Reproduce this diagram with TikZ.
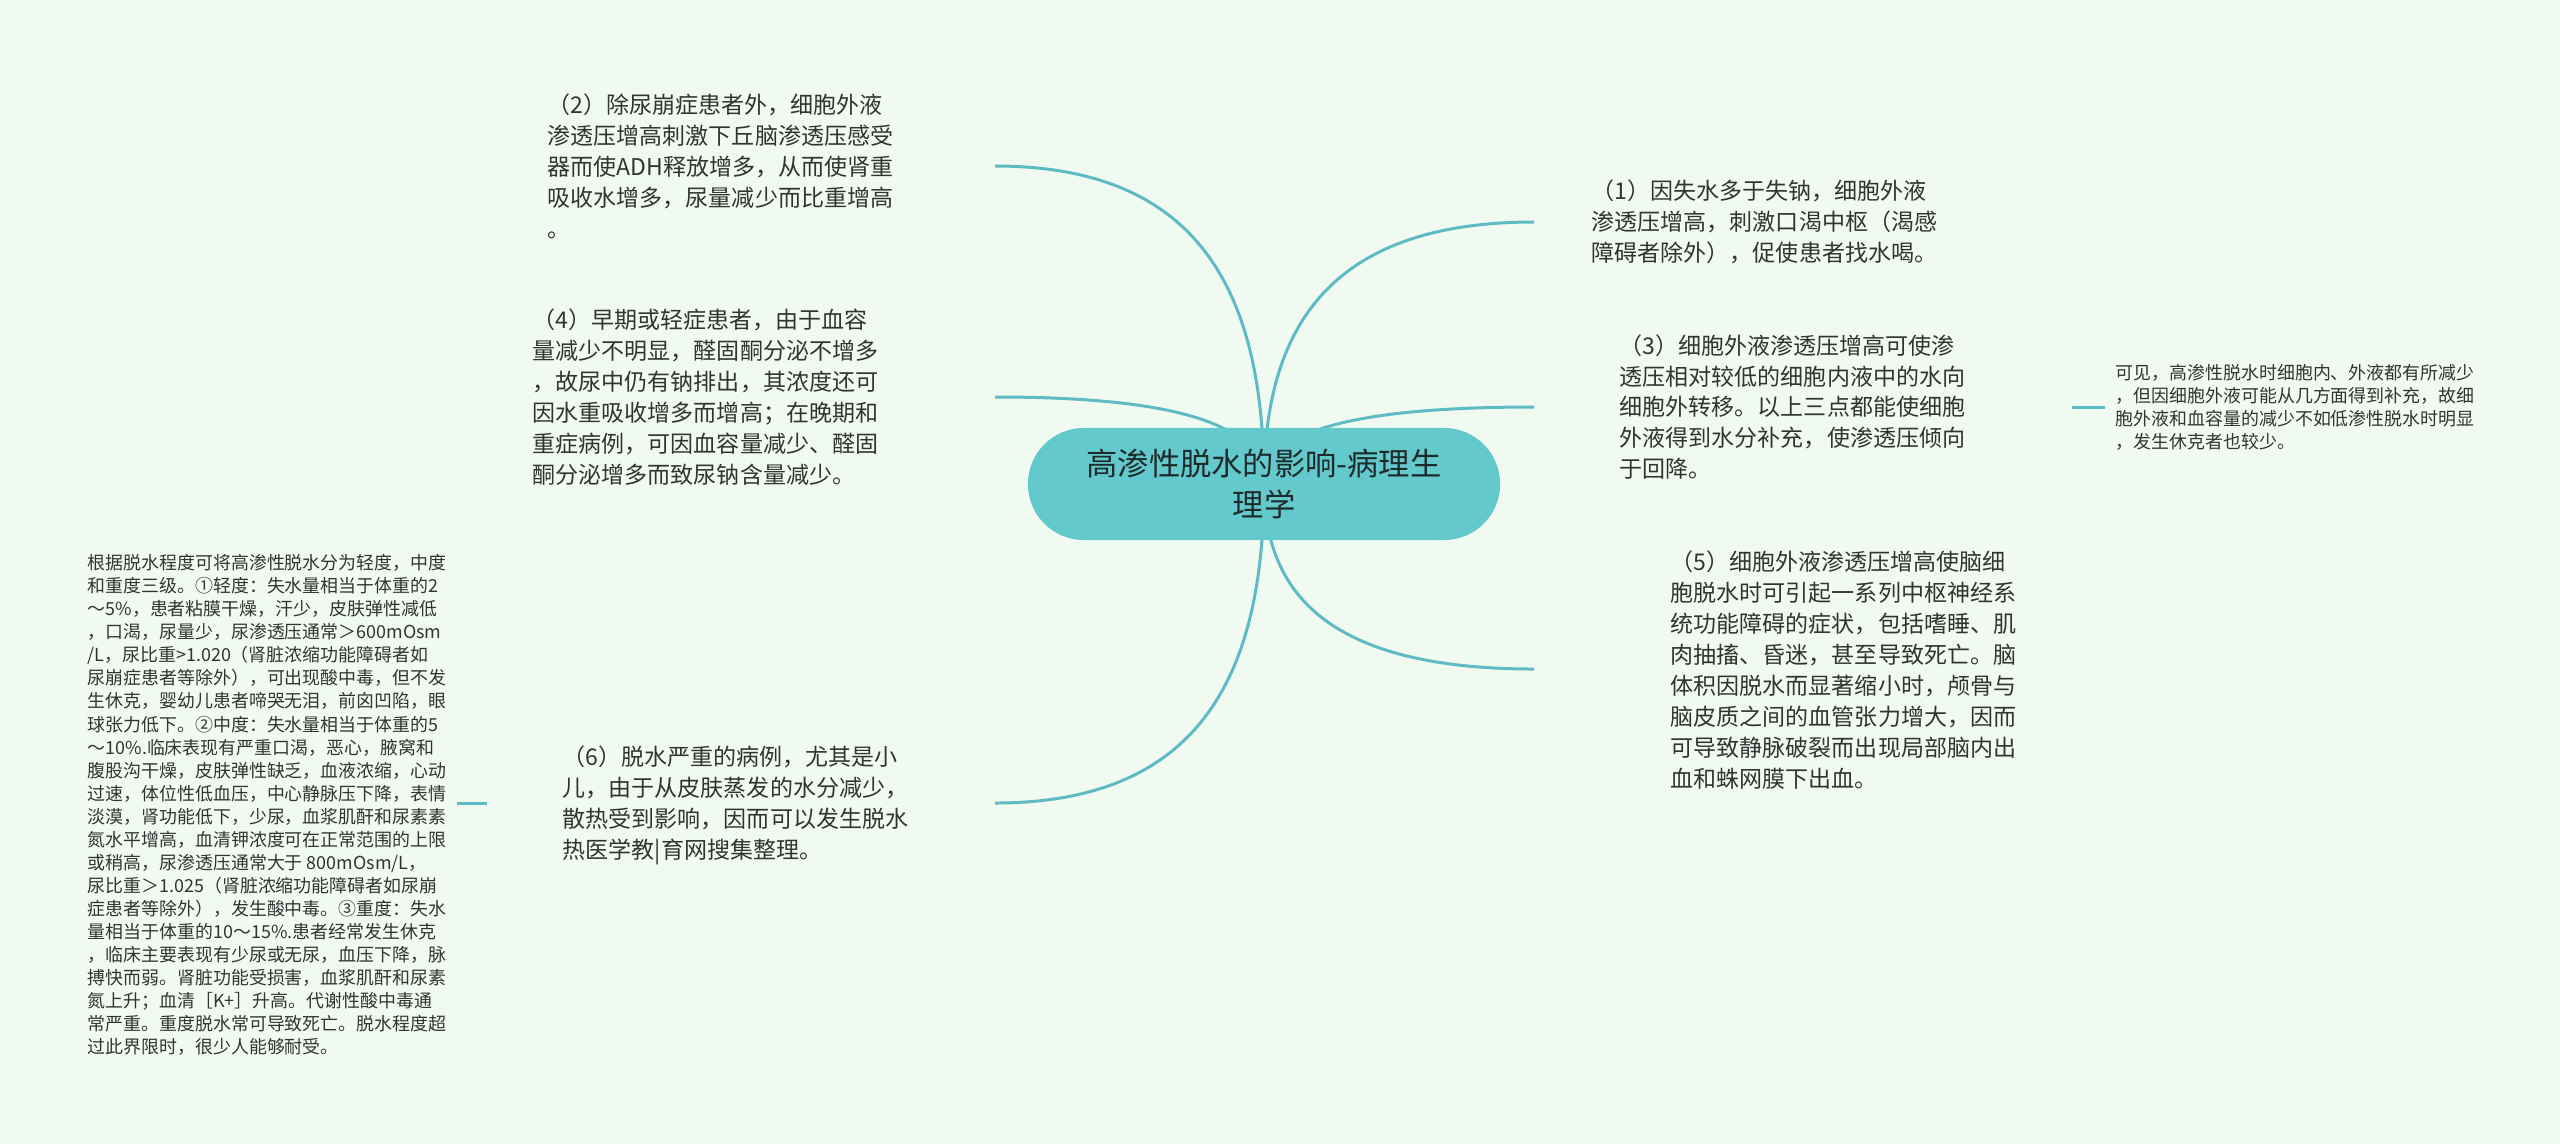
\documentclass[tikz,border=0pt]{standalone}
\usepackage{fontspec}
\setmainfont{Noto Sans CJK SC}
\usetikzlibrary{backgrounds}
\definecolor{bgc}{RGB}{241,250,241}
\definecolor{rootc}{RGB}{99,201,204}
\definecolor{linec}{RGB}{94,186,196}
\definecolor{roottxt}{RGB}{30,43,43}
\definecolor{txt}{RGB}{51,51,51}

\begin{document}
\begin{tikzpicture}[x=0.01cm,y=-0.01cm,
  leaf/.style={anchor=west,align=left,inner sep=0pt,text=txt,font=\fontsize{6.55pt}{8.8pt}\selectfont},
  note/.style={anchor=west,align=left,inner sep=0pt,text=txt,font=\fontsize{5.1pt}{6.55pt}\selectfont},
  branch/.style={draw=linec,line width=0.85pt}]
\useasboundingbox (0,0) rectangle (2560,1144);

\node[fill=rootc,rounded corners=0.56cm,minimum width=4.72cm,minimum height=1.12cm,align=center,text=roottxt,font=\fontsize{8.9pt}{11.9pt}\selectfont] (0) at (1264,484) {高渗性脱水的影响-病理生\\理学};

\node[leaf] (1) at (1591,222) {（1）因失水多于失钠，细胞外液\\渗透压增高，刺激口渴中枢（渴感\\障碍者除外），促使患者找水喝。};
\node[leaf] (2) at (547,166) {（2）除尿崩症患者外，细胞外液\\渗透压增高刺激下丘脑渗透压感受\\器而使ADH释放增多，从而使肾重\\吸收水增多，尿量减少而比重增高\\。};
\node[leaf] (3) at (1619,407) {（3）细胞外液渗透压增高可使渗\\透压相对较低的细胞内液中的水向\\细胞外转移。以上三点都能使细胞\\外液得到水分补充，使渗透压倾向\\于回降。};
\node[leaf] (4) at (532,397) {（4）早期或轻症患者，由于血容\\量减少不明显，醛固酮分泌不增多\\，故尿中仍有钠排出，其浓度还可\\因水重吸收增多而增高；在晚期和\\重症病例，可因血容量减少、醛固\\酮分泌增多而致尿钠含量减少。};
\node[leaf] (5) at (1670,670) {（5）细胞外液渗透压增高使脑细\\胞脱水时可引起一系列中枢神经系\\统功能障碍的症状，包括嗜睡、肌\\肉抽搐、昏迷，甚至导致死亡。脑\\体积因脱水而显著缩小时，颅骨与\\脑皮质之间的血管张力增大，因而\\可导致静脉破裂而出现局部脑内出\\血和蛛网膜下出血。};
\node[leaf] (6) at (562,805) {（6）脱水严重的病例，尤其是小\\儿，由于从皮肤蒸发的水分减少，\\散热受到影响，因而可以发生脱水\\热医学教|育网搜集整理。};
\node[note] (7) at (87,805) {根据脱水程度可将高渗性脱水分为轻度，中度\\和重度三级。①轻度：失水量相当于体重的2\\～5\%，患者粘膜干燥，汗少，皮肤弹性减低\\，口渴，尿量少，尿渗透压通常＞600mOsm\\/L，尿比重>1.020（肾脏浓缩功能障碍者如\\尿崩症患者等除外），可出现酸中毒，但不发\\生休克，婴幼儿患者啼哭无泪，前囟凹陷，眼\\球张力低下。②中度：失水量相当于体重的5\\～10\%.临床表现有严重口渴，恶心，腋窝和\\腹股沟干燥，皮肤弹性缺乏，血液浓缩，心动\\过速，体位性低血压，中心静脉压下降，表情\\淡漠，肾功能低下，少尿，血浆肌酐和尿素素\\氮水平增高，血清钾浓度可在正常范围的上限\\或稍高，尿渗透压通常大于 800mOsm/L，\\尿比重＞1.025（肾脏浓缩功能障碍者如尿崩\\症患者等除外），发生酸中毒。③重度：失水\\量相当于体重的10～15\%.患者经常发生休克\\，临床主要表现有少尿或无尿，血压下降，脉\\搏快而弱。肾脏功能受损害，血浆肌酐和尿素\\氮上升；血清［K+］升高。代谢性酸中毒通\\常严重。重度脱水常可导致死亡。脱水程度超\\过此界限时，很少人能够耐受。};
\node[note] (8) at (2115,407) {可见，高渗性脱水时细胞内、外液都有所减少\\，但因细胞外液可能从几方面得到补充，故细\\胞外液和血容量的减少不如低渗性脱水时明显\\，发生休克者也较少。};

% branch ends
\coordinate (e1) at (1534,222);
\coordinate (e2) at (995,166);
\coordinate (e3) at (1534,407);
\coordinate (e4) at (995,397);
\coordinate (e5) at (1534,669);
\coordinate (e6) at (995,803);
\coordinate (e7a) at (457,803);
\coordinate (e7b) at (487,803);
\coordinate (e8a) at (2072,407);
\coordinate (e8b) at (2105,407);

\begin{pgfonlayer}{background}
\fill[bgc] (0,0) rectangle (2560,1144);
\path [branch] (0.center) .. controls +(0,-157) and +(-204,0) .. (e1);
\path [branch] (0.center) .. controls +(0,-191) and +(205,0) .. (e2);
\path [branch] (0.center) .. controls +(0,-46) and +(-204,0) .. (e3);
\path [branch] (0.center) .. controls +(0,-52) and +(205,0) .. (e4);
\path [branch] (0.center) .. controls +(0,111) and +(-204,0) .. (e5);
\path [branch] (0.center) .. controls +(0,191) and +(205,0) .. (e6);
\end{pgfonlayer}
\path [branch] (e7a) -- (e7b);
\path [branch] (e8a) -- (e8b);
\end{tikzpicture}
\end{document}
